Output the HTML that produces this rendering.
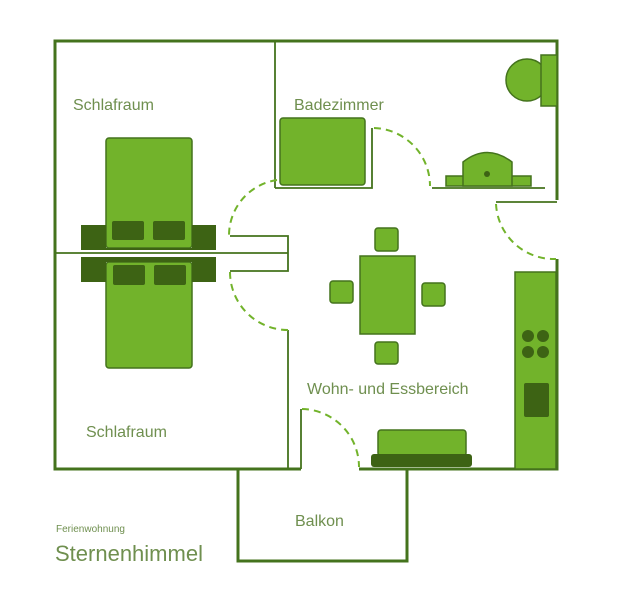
<!DOCTYPE html>
<html><head><meta charset="utf-8"><style>
body{margin:0;background:#fff}
svg{display:block}
text{font-family:"Liberation Sans",sans-serif;fill:#6f8f4f;font-weight:normal}
</style></head><body>
<svg width="618" height="595" viewBox="0 0 618 595" xmlns="http://www.w3.org/2000/svg">
<g fill="none" stroke="#44731d" stroke-width="3">
<polyline points="301,469 55,469 55,41 557,41 557,200"/>
<polyline points="557,259 557,469 359,469"/>
<polyline points="238,469 238,561 407,561 407,469"/>
</g>
<g fill="none" stroke="#44731d" stroke-width="1.8">
<line x1="275" y1="41" x2="275" y2="188"/>
<polyline points="275,188 372,188 372,128"/>
<line x1="432" y1="188" x2="545" y2="188"/>
<line x1="496" y1="202" x2="557" y2="202"/>
<line x1="55" y1="253" x2="288" y2="253"/>
<polyline points="230,236 288,236 288,271 230,271"/>
<line x1="288" y1="330" x2="288" y2="469"/>
<line x1="301" y1="409" x2="301" y2="469"/>
</g>
<g fill="none" stroke="#72b32b" stroke-width="2" stroke-dasharray="7,5">
<path d="M374,128 A58,58 0 0 1 430,186"/>
<path d="M496,204 A58,58 0 0 0 556,259"/>
<path d="M277,180 A56,56 0 0 0 229,236"/>
<path d="M230,272 A58,58 0 0 0 288,330"/>
<path d="M302,409 A58,58 0 0 1 359,467"/>
</g>
<g stroke="#44731d" stroke-width="1.5">
<rect x="280" y="118" width="85" height="67" rx="3" fill="#72b32b"/>
<circle cx="527" cy="80" r="21" fill="#72b32b"/>
<rect x="541" y="55" width="16" height="51" fill="#72b32b"/>
<rect x="446" y="176" width="85" height="10" fill="#72b32b"/>
<path d="M463,186 L463,162 Q487,143 512,162 L512,186 Z" fill="#72b32b"/>
<rect x="106" y="138" width="86" height="110" rx="3" fill="#72b32b"/>
<rect x="106" y="262" width="86" height="106" rx="3" fill="#72b32b"/>
<rect x="360" y="256" width="55" height="78" fill="#72b32b"/>
<rect x="375" y="228" width="23" height="23" rx="3" fill="#72b32b"/>
<rect x="330" y="281" width="23" height="22" rx="3" fill="#72b32b"/>
<rect x="422" y="283" width="23" height="23" rx="3" fill="#72b32b"/>
<rect x="375" y="342" width="23" height="22" rx="3" fill="#72b32b"/>
<rect x="515" y="272" width="41" height="197" fill="#72b32b"/>
<rect x="378" y="430" width="88" height="26" rx="3" fill="#72b32b"/>
</g>
<g fill="#3d6314">
<circle cx="487" cy="174" r="3"/>
<path d="M81,225 H106 V248 H192 V225 H216 V250 H81 Z"/>
<rect x="112" y="221" width="32" height="19" rx="2"/>
<rect x="153" y="221" width="32" height="19" rx="2"/>
<path d="M81,257 H216 V282 H192 V262 H106 V282 H81 Z"/>
<rect x="113" y="265" width="32" height="20" rx="2"/>
<rect x="154" y="265" width="32" height="20" rx="2"/>
<circle cx="528" cy="336" r="6"/><circle cx="543" cy="336" r="6"/>
<circle cx="528" cy="352" r="6"/><circle cx="543" cy="352" r="6"/>
<rect x="524" y="383" width="25" height="34" rx="2"/>
<rect x="371" y="454" width="101" height="13" rx="3"/>
</g>
<text x="73" y="110" font-size="16">Schlafraum</text>
<text x="294" y="110" font-size="16">Badezimmer</text>
<text x="307" y="394" font-size="16">Wohn- und Essbereich</text>
<text x="86" y="437" font-size="16">Schlafraum</text>
<text x="295" y="526" font-size="16">Balkon</text>
<text x="56" y="532" font-size="10">Ferienwohnung</text>
<text x="55" y="561" font-size="22">Sternenhimmel</text>
</svg>
</body></html>
